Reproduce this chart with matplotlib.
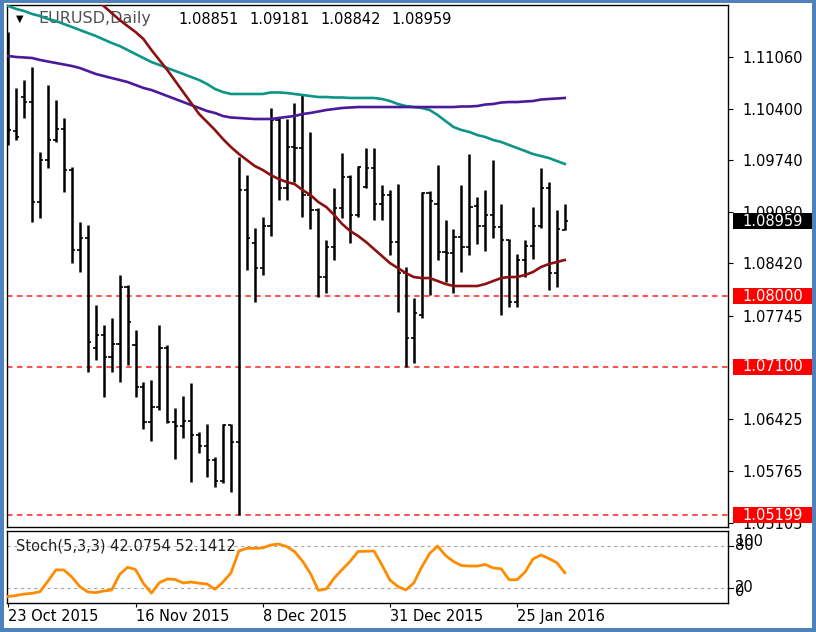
import matplotlib
matplotlib.use("Agg")
import matplotlib.pyplot as plt
import numpy as np
from matplotlib.patches import Rectangle
from matplotlib.transforms import blended_transform_factory

# ---------------- data ----------------
opens = [1.09998, 1.10114, 1.10548, 1.10484, 1.09205, 1.09743, 1.09998, 1.10139, 1.09615, 1.08591,
         1.08745, 1.07338, 1.07504, 1.07223, 1.07389, 1.08118, 1.07376, 1.06839, 1.06392, 1.06583,
         1.07338, 1.06392, 1.06340, 1.06404, 1.06225, 1.06085, 1.05906, 1.05637, 1.06353, 1.06136,
         1.09359, 1.08681, 1.08361, 1.08898, 1.10254, 1.09384, 1.09909, 1.09896, 1.09295, 1.09103,
         1.08246, 1.08630, 1.09129, 1.09525, 1.09039, 1.09397, 1.09640, 1.09180, 1.09295, 1.08694,
         1.08297, 1.07466, 1.07760, 1.09320, 1.09180, 1.08566, 1.08553, 1.08758, 1.08630, 1.09154,
         1.08898, 1.09039, 1.08886, 1.08719, 1.07926, 1.08464, 1.08642, 1.08898, 1.09384, 1.08297,
         1.08851]
highs = [1.11380, 1.10664, 1.10766, 1.10932, 1.09845, 1.10702, 1.10510, 1.10280, 1.09653, 1.08950,
         1.08911, 1.07888, 1.07632, 1.07722, 1.08272, 1.08144, 1.07568, 1.06903, 1.06929, 1.07632,
         1.07376, 1.06571, 1.06724, 1.06891, 1.06264, 1.06366, 1.05944, 1.06366, 1.06366, 1.09781,
         1.09551, 1.08873, 1.09014, 1.10408, 1.10280, 1.10267, 1.10472, 1.10574, 1.10101, 1.09129,
         1.08719, 1.09384, 1.09832, 1.09551, 1.09666, 1.09896, 1.09896, 1.09423, 1.09359, 1.09436,
         1.08374, 1.07978, 1.09333, 1.09346, 1.09679, 1.08975, 1.08860, 1.09423, 1.09820, 1.09269,
         1.09359, 1.09743, 1.09180, 1.08732, 1.08540, 1.08719, 1.09141, 1.09640, 1.09461, 1.09103,
         1.09181]
lows = [1.09934, 1.09998, 1.10280, 1.08950, 1.09001, 1.09640, 1.09973, 1.09333, 1.08425, 1.08310,
        1.07031, 1.07185, 1.06711, 1.07031, 1.06903, 1.07121, 1.06711, 1.06302, 1.06149, 1.06545,
        1.06379, 1.05919, 1.06187, 1.05624, 1.05995, 1.05688, 1.05560, 1.05611, 1.05496, 1.05199,
        1.08336, 1.07926, 1.08272, 1.08771, 1.09231, 1.09231, 1.09461, 1.09014, 1.08860, 1.07990,
        1.08042, 1.08464, 1.09001, 1.08681, 1.09014, 1.09384, 1.08975, 1.08975, 1.08527, 1.07799,
        1.07100, 1.07146, 1.07722, 1.08016, 1.08464, 1.08182, 1.08042, 1.08310, 1.08527, 1.08668,
        1.08578, 1.08745, 1.07760, 1.07862, 1.07862, 1.08246, 1.08477, 1.08873, 1.08080, 1.08118,
        1.08842]
closes = [1.10126, 1.10037, 1.10484, 1.09205, 1.09743, 1.09998, 1.10139, 1.09615, 1.08591, 1.08745,
          1.07415, 1.07504, 1.07223, 1.07389, 1.08118, 1.07671, 1.06839, 1.06392, 1.06583, 1.07338,
          1.06392, 1.06340, 1.06404, 1.06225, 1.06085, 1.05906, 1.05637, 1.06353, 1.06136, 1.09359,
          1.08745, 1.08361, 1.08898, 1.10254, 1.09384, 1.09909, 1.09896, 1.09295, 1.09103, 1.08246,
          1.08630, 1.09129, 1.09525, 1.09039, 1.09653, 1.09640, 1.09180, 1.09295, 1.08694, 1.08297,
          1.07466, 1.07786, 1.09320, 1.09218, 1.08566, 1.08553, 1.08758, 1.08630, 1.09141, 1.08898,
          1.09039, 1.08886, 1.08719, 1.07926, 1.08464, 1.08642, 1.08898, 1.09384, 1.08297, 1.08860,
          1.08959]

ma_teal = [1.11712, 1.11674, 1.11648, 1.11610, 1.11584, 1.11546, 1.11520, 1.11482, 1.11444, 1.11405,
           1.11367, 1.11329, 1.11284, 1.11239, 1.11201, 1.11150, 1.11098, 1.11047, 1.10996, 1.10958,
           1.10919, 1.10881, 1.10843, 1.10804, 1.10766, 1.10715, 1.10651, 1.10612, 1.10587, 1.10587,
           1.10587, 1.10587, 1.10587, 1.10606, 1.10606, 1.10600, 1.10587, 1.10574, 1.10561, 1.10548,
           1.10548, 1.10542, 1.10542, 1.10536, 1.10536, 1.10536, 1.10536, 1.10523, 1.10497, 1.10459,
           1.10433, 1.10420, 1.10408, 1.10382, 1.10318, 1.10241, 1.10165, 1.10126, 1.10101, 1.10062,
           1.10037, 1.09998, 1.09973, 1.09934, 1.09896, 1.09858, 1.09819, 1.09794, 1.09768, 1.09730,
           1.09692]
ma_purple = [1.11073, 1.11060, 1.11054, 1.11047, 1.11022, 1.11002, 1.10983, 1.10964, 1.10945, 1.10919,
             1.10881, 1.10843, 1.10817, 1.10791, 1.10766, 1.10740, 1.10702, 1.10664, 1.10638, 1.10600,
             1.10561, 1.10523, 1.10484, 1.10446, 1.10408, 1.10369, 1.10344, 1.10305, 1.10286, 1.10280,
             1.10273, 1.10267, 1.10267, 1.10267, 1.10280, 1.10293, 1.10305, 1.10331, 1.10344, 1.10363,
             1.10382, 1.10395, 1.10408, 1.10414, 1.10420, 1.10420, 1.10420, 1.10420, 1.10420, 1.10420,
             1.10420, 1.10420, 1.10420, 1.10420, 1.10420, 1.10420, 1.10420, 1.10427, 1.10427, 1.10433,
             1.10452, 1.10459, 1.10478, 1.10484, 1.10484, 1.10491, 1.10497, 1.10516, 1.10523, 1.10529,
             1.10536]
ma_red = [np.nan] * 11 + [
    1.11802, 1.11712, 1.11623, 1.11533, 1.11456, 1.11380, 1.11290, 1.11150, 1.11022, 1.10894,
    1.10753, 1.10612, 1.10472, 1.10331, 1.10229, 1.10126, 1.10011, 1.09909, 1.09820, 1.09743,
    1.09666, 1.09615, 1.09551, 1.09500, 1.09461, 1.09436, 1.09359, 1.09295, 1.09205, 1.09141,
    1.09039, 1.08924, 1.08835, 1.08771, 1.08694, 1.08604, 1.08515, 1.08425, 1.08361, 1.08297,
    1.08246, 1.08233, 1.08233, 1.08195, 1.08157, 1.08131, 1.08131, 1.08131, 1.08131, 1.08157,
    1.08195, 1.08233, 1.08246, 1.08246, 1.08272, 1.08310, 1.08374, 1.08412, 1.08438, 1.08464]

stoch_k = [8.4, 9.8, 11.9, 12.9, 15.3, 30.4, 46.2, 46.0, 36.0, 22.4,
           14.8, 13.8, 16.2, 17.6, 39.6, 49.8, 46.7, 26.8, 13.3, 27.9,
           33.2, 32.5, 27.5, 28.9, 27.2, 26.1, 18.6, 28.9, 41.7, 72.9,
           76.7, 76.7, 77.2, 81.4, 82.8, 79.3, 72.2, 58.7, 41.0, 17.2,
           19.0, 34.6, 46.7, 58.3, 72.2, 72.6, 72.9, 53.0, 31.8, 22.6,
           17.6, 27.5, 50.2, 69.4, 80.0, 66.5, 58.0, 52.3, 51.6, 51.6,
           53.8, 48.8, 47.7, 32.1, 32.1, 43.1, 61.6, 67.2, 62.3, 56.3,
           42.0754]

levels = [1.08000, 1.07100, 1.05199]
price_ticks = [1.11060, 1.10400, 1.09740, 1.09080, 1.08420, 1.07745, 1.06425, 1.05765, 1.05105]
date_idx = [0, 16, 32, 48, 64]
date_labels = ["23 Oct 2015", "16 Nov 2015", "8 Dec 2015", "31 Dec 2015", "25 Jan 2016"]
title_symbol = "EURUSD,Daily"
title_vals = ["1.08851", "1.09181", "1.08842", "1.08959"]
stoch_title = "Stoch(5,3,3) 42.0754 52.1412"
stoch_levels = [20, 80]
stoch_scale = ["100", "80", "20", "0"]

# ---------------- layout ----------------
W, H = 816, 632
FS = 10.5
plt.rcParams['font.family'] = ['DejaVu Sans']
fig = plt.figure(figsize=(W / 100, H / 100), dpi=100, facecolor='white')

def fx(px):
    return px / W

def fy(py):
    return 1 - py / H

ax = fig.add_axes([fx(7), fy(527), fx(728) - fx(7), fy(5) - fy(527)])
ax2 = fig.add_axes([fx(7), fy(602.5), fx(728) - fx(7), fy(531) - fy(602.5)])

n = len(closes)
x = np.arange(n)

# bars
ax.vlines(x, lows, highs, colors='black', linewidth=1.8, zorder=3)
ax.hlines(opens, x - 0.4, x, colors='black', linewidth=1.2, zorder=3)
ax.hlines(closes, x, x + 0.4, colors='black', linewidth=1.2, zorder=3)

# moving averages
ax.plot(x, ma_teal, color='#0E9488', linewidth=1.9, zorder=4)
ax.plot(x, ma_purple, color='#4B1A9A', linewidth=1.9, zorder=4)
ax.plot(x, ma_red, color='#8B1010', linewidth=1.9, zorder=4)

# horizontal levels
for lv in levels:
    ax.axhline(lv, color='#FF2020', linewidth=1.1, linestyle=(0, (3.6, 2.9)), zorder=2)

ax.set_xlim(-0.164, 90.53)
ax.set_ylim(1.05049, 1.11725)
ax.set_xticks([])
ax.yaxis.tick_right()
ax.set_yticks(price_ticks)
ax.set_yticklabels([f"{v:.5f}" for v in price_ticks])
ax.tick_params(axis='y', direction='out', length=3.6, width=0.8, pad=6.5,
               labelsize=FS, colors='black')
for s in ax.spines.values():
    s.set_color('black')
    s.set_linewidth(1.0)

# price boxes on the right scale
bt = blended_transform_factory(fig.transFigure, ax.transData)
box_h = 16 / 7819.0
box_items = [(levels[0], '#FF0000'), (levels[1], '#FF0000'), (levels[2], '#FF0000'),
             (closes[-1], '#000000')]
for val, col in box_items:
    ax.add_patch(Rectangle((fx(733), val - box_h / 2), fx(813) - fx(733), box_h,
                           transform=bt, facecolor=col, edgecolor='none',
                           clip_on=False, zorder=20))
    ax.text(fx(742), val, f"{val:.5f}", transform=bt, color='white', fontsize=FS,
            ha='left', va='center', clip_on=False, zorder=21)

# title (drawn beneath the indicator lines)
ax.text(fx(20), fy(19), '\u25BC', transform=fig.transFigure, fontsize=7,
        ha='center', va='center', color='black', zorder=1)
ax.text(fx(38), fy(19), title_symbol, transform=fig.transFigure, fontsize=11.5,
        ha='left', va='center', color='#505050', zorder=1)
for i, t in enumerate(title_vals):
    ax.text(fx(178 + 71 * i), fy(19), t, transform=fig.transFigure, fontsize=FS,
            ha='left', va='center', color='black', zorder=1)

# stochastic panel
ax2.plot(x, stoch_k, color='#FF8C00', linewidth=2.0, zorder=3)
for lv in stoch_levels:
    ax2.axhline(lv, color='#A8A8A8', linewidth=0.8, linestyle=(0, (3, 3)), zorder=1)
ax2.set_xlim(-0.164, 90.53)
ax2.set_ylim(-0.14, 101.3)
ax2.yaxis.tick_right()
ax2.set_yticks([])
ax2.set_xticks(date_idx)
ax2.set_xticklabels(date_labels)
ax2.tick_params(axis='x', direction='out', length=3, width=0.8, pad=2, labelsize=FS, colors='black')
for lbl in ax2.get_xticklabels():
    lbl.set_ha('left')
for s in ax2.spines.values():
    s.set_color('black')
    s.set_linewidth(1.0)
ax2.text(fx(16), fy(546), stoch_title, transform=fig.transFigure, fontsize=FS,
         ha='left', va='center', color='#202020', zorder=5)
# stochastic scale labels (overlapping pairs, as on the platform)
for lab, yy in zip(stoch_scale, [541, 546, 587, 592]):
    fig.text(fx(735), fy(yy), lab, fontsize=FS, ha='left', va='center', color='black')
for yy in [546, 588]:
    fig.lines.append(plt.Line2D([fx(729), fx(733)], [fy(yy), fy(yy)], transform=fig.transFigure,
                                color='black', linewidth=0.8))

# outer blue frame
blue = '#4F81BD'
for rect in [(0, 0, fx(4), 1), (fx(812), 0, fx(4), 1), (0, fy(3), 1, 3 / H), (0, 0, 1, 4 / H)]:
    fig.patches.append(Rectangle(rect[:2], rect[2], rect[3], transform=fig.transFigure,
                                 facecolor=blue, edgecolor='none', zorder=30))

fig.savefig('out.png', dpi=100, facecolor='white')
